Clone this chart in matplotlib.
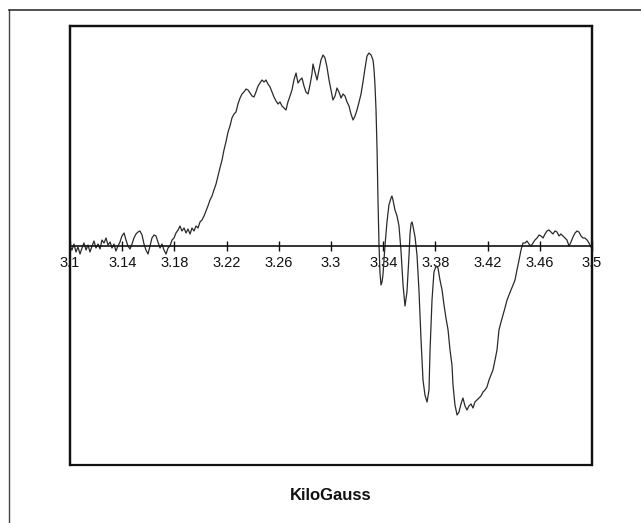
import matplotlib
matplotlib.use("Agg")
import matplotlib.pyplot as plt
from matplotlib.patches import Rectangle
from matplotlib.lines import Line2D

plt.rcParams['font.family'] = ['Liberation Sans', 'DejaVu Sans']

field_kG = [
    3.1000, 3.1015, 3.1031, 3.1046, 3.1061, 3.1077, 3.1092, 3.1107, 3.1123, 3.1138,
    3.1153, 3.1169, 3.1184, 3.1199, 3.1215, 3.1230, 3.1245, 3.1261, 3.1276, 3.1291,
    3.1307, 3.1322, 3.1337, 3.1352, 3.1368, 3.1383, 3.1398, 3.1414, 3.1429, 3.1444,
    3.1460, 3.1475, 3.1490, 3.1506, 3.1521, 3.1536, 3.1552, 3.1567, 3.1582, 3.1598,
    3.1613, 3.1628, 3.1644, 3.1659, 3.1674, 3.1690, 3.1705, 3.1720, 3.1736, 3.1751,
    3.1766, 3.1782, 3.1797, 3.1812, 3.1828, 3.1843, 3.1858, 3.1874, 3.1889, 3.1904,
    3.1920, 3.1935, 3.1950, 3.1966, 3.1981, 3.1996, 3.2011, 3.2027, 3.2042, 3.2057,
    3.2073, 3.2088, 3.2103, 3.2119, 3.2134, 3.2149, 3.2165, 3.2180, 3.2195, 3.2211,
    3.2226, 3.2241, 3.2257, 3.2272, 3.2287, 3.2303, 3.2318, 3.2333, 3.2349, 3.2364,
    3.2379, 3.2395, 3.2410, 3.2425, 3.2441, 3.2456, 3.2471, 3.2487, 3.2502, 3.2517,
    3.2533, 3.2548, 3.2563, 3.2579, 3.2594, 3.2609, 3.2625, 3.2640, 3.2655, 3.2670,
    3.2686, 3.2701, 3.2716, 3.2732, 3.2747, 3.2762, 3.2778, 3.2793, 3.2808, 3.2824,
    3.2839, 3.2854, 3.2862, 3.2877, 3.2893, 3.2908, 3.2923, 3.2939, 3.2954, 3.2969,
    3.2985, 3.3000, 3.3015, 3.3031, 3.3046, 3.3061, 3.3077, 3.3092, 3.3107, 3.3123,
    3.3138, 3.3153, 3.3169, 3.3184, 3.3199, 3.3215, 3.3230, 3.3245, 3.3261, 3.3276,
    3.3291, 3.3307, 3.3322, 3.3330, 3.3337, 3.3345, 3.3353, 3.3360, 3.3368, 3.3375,
    3.3383, 3.3391, 3.3398, 3.3414, 3.3429, 3.3444, 3.3460, 3.3467, 3.3475, 3.3490,
    3.3506, 3.3521, 3.3536, 3.3552, 3.3567, 3.3582, 3.3598, 3.3605, 3.3613, 3.3621,
    3.3628, 3.3644, 3.3659, 3.3674, 3.3690, 3.3705, 3.3720, 3.3736, 3.3751, 3.3759,
    3.3774, 3.3789, 3.3805, 3.3820, 3.3835, 3.3851, 3.3866, 3.3881, 3.3897, 3.3912,
    3.3927, 3.3935, 3.3950, 3.3966, 3.3981, 3.3996, 3.4011, 3.4027, 3.4042, 3.4057,
    3.4073, 3.4088, 3.4103, 3.4119, 3.4134, 3.4149, 3.4165, 3.4180, 3.4195, 3.4211,
    3.4226, 3.4241, 3.4257, 3.4272, 3.4287, 3.4303, 3.4318, 3.4333, 3.4349, 3.4364,
    3.4379, 3.4395, 3.4410, 3.4425, 3.4441, 3.4456, 3.4471, 3.4487, 3.4502, 3.4517,
    3.4533, 3.4548, 3.4563, 3.4579, 3.4594, 3.4609, 3.4625, 3.4640, 3.4655, 3.4670,
    3.4686, 3.4701, 3.4716, 3.4732, 3.4747, 3.4762, 3.4778, 3.4793, 3.4808, 3.4824,
    3.4839, 3.4854, 3.4870, 3.4885, 3.4900, 3.4916, 3.4931, 3.4946, 3.4962, 3.4977,
    3.4992, 3.5000,
]

signal = [
    0.000, -0.020, 0.010, -0.030, -0.005, -0.040, -0.010, 0.015, -0.020, 0.005,
    -0.030, 0.000, 0.025, -0.010, 0.010, -0.015, 0.030, 0.015, 0.040, 0.005,
    0.020, -0.010, 0.010, -0.025, 0.000, 0.020, 0.050, 0.065, 0.030, 0.000,
    -0.015, 0.010, 0.040, 0.060, 0.070, 0.075, 0.055, 0.010, -0.020, -0.040,
    0.000, 0.040, 0.055, 0.050, 0.020, -0.010, 0.010, -0.020, -0.040, -0.010,
    0.000, 0.030, 0.040, 0.065, 0.080, 0.100, 0.075, 0.090, 0.065, 0.085,
    0.060, 0.090, 0.075, 0.100, 0.090, 0.120, 0.130, 0.150, 0.175, 0.200,
    0.230, 0.250, 0.280, 0.310, 0.350, 0.390, 0.430, 0.480, 0.520, 0.570,
    0.600, 0.640, 0.660, 0.670, 0.710, 0.740, 0.760, 0.770, 0.785, 0.780,
    0.765, 0.750, 0.745, 0.770, 0.800, 0.815, 0.830, 0.820, 0.830, 0.810,
    0.795, 0.770, 0.745, 0.725, 0.710, 0.720, 0.700, 0.690, 0.680, 0.720,
    0.750, 0.780, 0.830, 0.865, 0.815, 0.830, 0.840, 0.800, 0.770, 0.760,
    0.805, 0.860, 0.910, 0.870, 0.830, 0.880, 0.930, 0.955, 0.940, 0.895,
    0.830, 0.780, 0.730, 0.750, 0.790, 0.770, 0.740, 0.760, 0.750, 0.720,
    0.700, 0.660, 0.630, 0.650, 0.680, 0.720, 0.760, 0.820, 0.890, 0.950,
    0.965, 0.955, 0.930, 0.880, 0.805, 0.680, 0.480, 0.230, 0.005, -0.130,
    -0.195, -0.180, -0.145, 0.005, 0.120, 0.205, 0.240, 0.250, 0.230, 0.180,
    0.150, 0.100, -0.020, -0.195, -0.300, -0.230, -0.045, 0.055, 0.110, 0.120,
    0.100, 0.045, -0.045, -0.220, -0.470, -0.670, -0.745, -0.780, -0.720, -0.520,
    -0.270, -0.130, -0.100, -0.110, -0.170, -0.220, -0.295, -0.360, -0.420, -0.520,
    -0.595, -0.695, -0.795, -0.845, -0.830, -0.790, -0.760, -0.800, -0.820, -0.800,
    -0.790, -0.810, -0.780, -0.770, -0.760, -0.750, -0.730, -0.720, -0.705, -0.670,
    -0.645, -0.620, -0.570, -0.520, -0.420, -0.380, -0.345, -0.310, -0.270, -0.245,
    -0.220, -0.195, -0.170, -0.120, -0.070, -0.020, 0.015, 0.015, 0.025, 0.010,
    0.000, 0.015, 0.030, 0.040, 0.055, 0.050, 0.040, 0.060, 0.075, 0.080,
    0.070, 0.060, 0.075, 0.070, 0.050, 0.060, 0.050, 0.040, 0.030, 0.000,
    0.020, 0.045, 0.065, 0.075, 0.070, 0.050, 0.040, 0.040, 0.030, 0.015,
    -0.005, -0.010,
]

tick_values = [3.10, 3.14, 3.18, 3.22, 3.26, 3.30, 3.34, 3.38, 3.42, 3.46, 3.50]
tick_labels = ['3.1', '3.14', '3.18', '3.22', '3.26', '3.3', '3.34', '3.38',
               '3.42', '3.46', '3.5']
x_label = 'KiloGauss'

W, H = 641, 523
fig = plt.figure(figsize=(W / 100, H / 100), dpi=100)
fig.patch.set_facecolor('white')

# outer frame (left and top edges visible)
fig.add_artist(Line2D([9 / W, 9 / W], [0, 1 - 10 / H], transform=fig.transFigure,
                      color='#444444', lw=1.0))
fig.add_artist(Line2D([9 / W, 1], [1 - 10 / H, 1 - 10 / H], transform=fig.transFigure,
                      color='#333333', lw=1.2))

ax = fig.add_axes([70 / W, 58 / H, 522 / W, 439 / H])
ax.plot(field_kG, signal, color='#2a2a2a', lw=0.9)
ax.set_xlim(3.1, 3.5)
ax.set_ylim(-1.095, 1.1)

for s in ['top', 'left', 'right']:
    ax.spines[s].set_linewidth(1.6)
    ax.spines[s].set_color('#111111')
ax.spines['bottom'].set_position(('data', 0))
ax.spines['bottom'].set_linewidth(1.2)
ax.spines['bottom'].set_color('#111111')
ax.add_patch(Rectangle((0, 0), 1, 1, transform=ax.transAxes, fill=False,
                       lw=1.6, edgecolor='#111111', clip_on=False, zorder=5))

ax.set_xticks(tick_values)
ax.set_xticklabels(tick_labels)
ax.tick_params(axis='x', direction='inout', length=7, width=1.0, pad=3.5,
               labelsize=10.5, colors='#111111')
ax.set_yticks([])

fig.text((70 + 261) / W, 1 - 495 / H, x_label, ha='center', va='center',
         fontsize=12, fontweight='bold', color='#111111')

fig.savefig('out.png', dpi=100)
